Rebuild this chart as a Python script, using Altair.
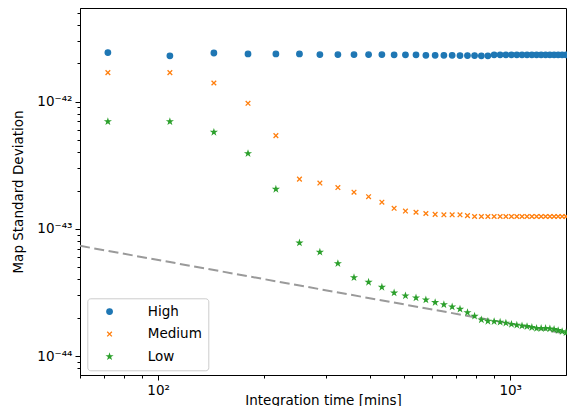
import altair as alt
import pandas as pd

# Integration times [mins]
times = [72, 108, 144, 180, 216, 252, 288, 324, 360, 396, 432, 468, 504, 540,
         576, 612, 648, 684, 720, 756, 792, 828, 864, 900, 936, 972, 1008, 1044,
         1080, 1116, 1152, 1188, 1224, 1260, 1296, 1332, 1368, 1404, 1440]

# Map standard deviation for each series
high = [2.43e-42, 2.29e-42, 2.41e-42, 2.37e-42, 2.37e-42, 2.37e-42, 2.34e-42,
        2.34e-42, 2.34e-42, 2.34e-42, 2.34e-42, 2.33e-42, 2.33e-42, 2.33e-42,
        2.31e-42, 2.31e-42, 2.31e-42, 2.31e-42, 2.30e-42, 2.30e-42, 2.30e-42,
        2.29e-42, 2.29e-42, 2.33e-42, 2.33e-42, 2.33e-42, 2.33e-42, 2.33e-42,
        2.33e-42, 2.33e-42, 2.33e-42, 2.33e-42, 2.33e-42, 2.33e-42, 2.33e-42,
        2.33e-42, 2.33e-42, 2.33e-42, 2.33e-42]
medium = [1.69e-42, 1.69e-42, 1.40e-42, 9.7e-43, 5.4e-43, 2.46e-43, 2.29e-43,
          2.11e-43, 1.94e-43, 1.79e-43, 1.62e-43, 1.45e-43, 1.38e-43, 1.35e-43,
          1.32e-43, 1.30e-43, 1.29e-43, 1.29e-43, 1.29e-43, 1.27e-43, 1.25e-43,
          1.25e-43, 1.25e-43, 1.25e-43, 1.25e-43, 1.25e-43, 1.25e-43, 1.25e-43,
          1.25e-43, 1.25e-43, 1.25e-43, 1.25e-43, 1.25e-43, 1.25e-43, 1.25e-43,
          1.25e-43, 1.25e-43, 1.25e-43, 1.25e-43]
low = [6.97e-43, 6.97e-43, 5.75e-43, 3.91e-43, 2.05e-43, 7.76e-44, 6.56e-44,
       5.34e-44, 4.14e-44, 3.81e-44, 3.48e-44, 3.14e-44, 2.98e-44, 2.87e-44,
       2.77e-44, 2.64e-44, 2.54e-44, 2.44e-44, 2.34e-44, 2.20e-44, 2.06e-44,
       1.93e-44, 1.88e-44, 1.87e-44, 1.85e-44, 1.82e-44, 1.78e-44, 1.75e-44,
       1.73e-44, 1.71e-44, 1.68e-44, 1.65e-44, 1.65e-44, 1.65e-44, 1.64e-44,
       1.62e-44, 1.59e-44, 1.56e-44, 1.53e-44]

series_names = ["High", "Medium", "Low"]
series_colors = ["#1f77b4", "#ff7f0e", "#2ca02c"]
STAR = ("M0,-0.8L0.1796,-0.2472L0.7609,-0.2472L0.2906,0.0944L0.4702,0.6472L0,0.3056"
        "L-0.4702,0.6472L-0.2906,0.0944L-0.7609,-0.2472L-0.1796,-0.2472Z")
XMARK = "M-0.85,-0.85L0.85,0.85M-0.85,0.85L0.85,-0.85"
series_shapes = ["circle", XMARK, STAR]

# Reference dashed line (end points)
ref_t = [60, 1440]
ref_y = [7.35e-44, 1.5e-44]

x_ticks = [60, 70, 80, 90, 100, 200, 300, 400, 500, 600, 700, 800, 900, 1000]
y_ticks = [8e-45, 9e-45, 1e-44, 2e-44, 3e-44, 4e-44, 5e-44, 6e-44, 7e-44, 8e-44,
           9e-44, 1e-43, 2e-43, 3e-43, 4e-43, 5e-43, 6e-43, 7e-43, 8e-43, 9e-43,
           1e-42, 2e-42, 3e-42, 4e-42, 5e-42]

rows = []
for name, vals in zip(series_names, [high, medium, low]):
    for t, v in zip(times, vals):
        rows.append({"t": t, "v": v, "series": name})
df = pd.DataFrame(rows)
ref_df = pd.DataFrame({"t": ref_t, "v": ref_y})

FONT = "DejaVu Sans"
FS = 13.5

xscale = alt.Scale(type="log", domain=[60, 1440], nice=False)
yscale = alt.Scale(type="log", domain=[7.1e-45, 5.44e-42], nice=False)

x_axis = alt.Axis(
    values=x_ticks,
    labelExpr="datum.value == 100 ? '10²' : datum.value == 1000 ? '10³' : ''",
    tickSize={"condition": {"test": "datum.value == 100 || datum.value == 1000", "value": 5}, "value": 3},
    tickColor="black", domainColor="black", domainWidth=1, tickWidth=1,
    labelFont=FONT, labelFontSize=FS, labelColor="black", labelPadding=3,
    labelFlush=False, labelOverlap=False, grid=False,
    title="Integration time [mins]", titleFont=FONT, titleFontSize=FS,
    titleFontWeight="normal", titleColor="black", titleY=18, titleBaseline="top",
)
y_axis = alt.Axis(
    values=y_ticks,
    labelExpr="datum.value == 1e-44 ? '10⁻⁴⁴' : datum.value == 1e-43 ? '10⁻⁴³' : datum.value == 1e-42 ? '10⁻⁴²' : ''",
    tickSize={"condition": {"test": "datum.value == 1e-44 || datum.value == 1e-43 || datum.value == 1e-42", "value": 5}, "value": 3},
    tickColor="black", domainColor="black", domainWidth=1, tickWidth=1,
    labelFont=FONT, labelFontSize=FS, labelColor="black", labelPadding=3,
    labelFlush=False, labelOverlap=False, grid=False,
    title="Map Standard Deviation", titleFont=FONT, titleFontSize=FS,
    titleFontWeight="normal", titleColor="black", titlePadding=11,
)

line = alt.Chart(ref_df).mark_line(
    color="#9a9a9a", strokeWidth=2, strokeDash=[10, 4.5]
).encode(
    x=alt.X("t:Q", scale=xscale, axis=x_axis),
    y=alt.Y("v:Q", scale=yscale, axis=y_axis),
)

legend = alt.Legend(
    title=None, orient="none", legendX=7.3, legendY=290.3,
    strokeColor="#cccccc", fillColor="rgba(255,255,255,0.8)", cornerRadius=3,
    padding=6.5, rowPadding=7.5, symbolOffset=9, labelOffset=31.5,
    labelFont=FONT, labelFontSize=FS, labelColor="black",
    symbolSize=30, symbolStrokeWidth=1.3,
)

cscale = alt.Scale(domain=series_names, range=series_colors)
points = alt.Chart(df).mark_point(filled=True, size=30, strokeWidth=1.3, opacity=1).encode(
    x=alt.X("t:Q", scale=xscale, axis=x_axis),
    y=alt.Y("v:Q", scale=yscale, axis=y_axis),
    color=alt.Color("series:N", scale=cscale, sort=series_names, legend=legend),
    stroke=alt.Stroke("series:N", scale=cscale, sort=series_names, legend=legend),
    shape=alt.Shape("series:N", scale=alt.Scale(domain=series_names, range=series_shapes),
                    sort=series_names, legend=legend),
)

chart = alt.layer(line, points).properties(
    width=486, height=367,
    autosize=alt.AutoSizeParams(type="none"),
    padding={"left": 72, "top": 0, "right": 1, "bottom": 31},
).configure_view(
    stroke="black", strokeWidth=1
).configure_legend(
    symbolOffset=9
)

chart.save("out.html", embed_options={"renderer": "svg", "actions": False})
